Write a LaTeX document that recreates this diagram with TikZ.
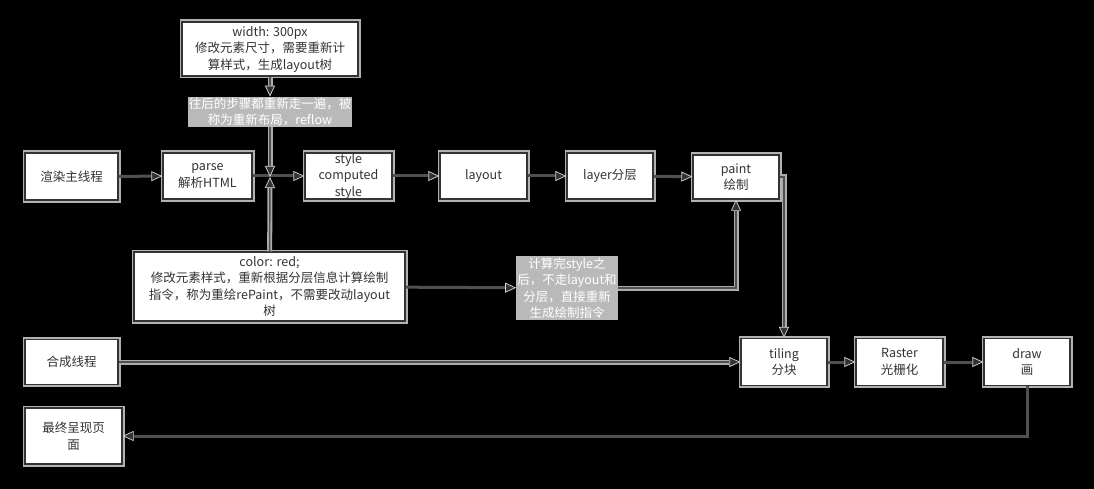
\documentclass[tikz,border=0pt]{standalone}
\usepackage{fontspec}
\setmainfont{Noto Sans CJK SC}
\usetikzlibrary{arrows.meta}
\definecolor{boxline}{HTML}{333333}
\definecolor{wire}{HTML}{505050}
\tikzset{
  tip/.style={-{Triangle[length=11pt,width=10pt,line width=0.7pt,color=white!85!black,fill=black!80]}},
  stepbox/.style={rectangle,draw=boxline,fill=white,line width=1.4pt,inner sep=0pt,align=center,
    text=black!80,preaction={draw=gray!60,line width=5pt}},
  wirelabel/.style={fill=gray!55,text=white,inner sep=1pt,align=center}
}
\begin{document}
\begin{tikzpicture}[x=1pt,y=-1pt,font=\fontsize{12.5}{16.5}\selectfont]
            \useasboundingbox[fill=black] (0,0) rectangle (1094,489);
            \begin{scope}[every node/.style={stepbox}]
                \node[minimum width=93,minimum height=47] (zhu) at (71.5,176.5) {渲染主线程};
                \node[minimum width=89,minimum height=46] (parse) at (207.5,176) {parse\\解析HTML};
                \node[minimum width=87,minimum height=46] (style) at (348.5,176) {style\\computed\\style};
                \node[minimum width=87,minimum height=46] (layout) at (483.5,176) {layout};
                \node[minimum width=86,minimum height=46] (layer) at (610,176) {layer分层};
                \node[minimum width=86,minimum height=44] (paint) at (736,177) {paint\\绘制};
                \node[minimum width=176,minimum height=54] (width) at (270,49) {width: 300px\\修改元素尺寸，需要重新计\\算样式，生成layout树};
                \node[minimum width=271,minimum height=69] (color) at (269.5,286.5) {color: red;\\修改元素样式，重新根据分层信息计算绘制\\指令，称为重绘rePaint，不需要改动layout\\树};
                \node[minimum width=93,minimum height=45] (hecheng) at (71.5,362) {合成线程};
                \node[minimum width=97,minimum height=56] (final) at (73.5,436) {最终呈现页\\面};
                \node[minimum width=86,minimum height=47] (tiling) at (784,362) {tiling\\分块};
                \node[minimum width=87,minimum height=47] (raster) at (899.5,362) {Raster\\光栅化};
                \node[minimum width=86,minimum height=47] (draw) at (1027,362) {draw\\画};
            \end{scope}
            \coordinate (j) at (270,177);
            \node[wirelabel] (reflow) at (270,112) {往后的步骤都重新走一遍，被\\称为重新布局，reflow};
            \node[wirelabel] (redo) at (567,288) {计算完style之\\后，不走layout和\\分层，直接重新\\生成绘制指令};
            \begin{scope}[every path/.style={draw=wire,line width=3pt,tip}]
                \path (zhu) -- (parse);
                \path (parse) -- (style);
                \path (style) -- (layout);
                \path (layout) -- (layer);
                \path (layer) -- (paint);
                \path (tiling) -- (raster);
                \path (raster) -- (draw);
                \path (draw.south) |- (final.east);
                \path (color) -- (redo);
            \end{scope}
            \begin{scope}[every path/.style={draw=gray!65,double=wire,double distance=1.4pt,line width=1.8pt,tip}]
                \path (width) -- (reflow);
                \path (reflow) -- (j);
                \path (color) -- (j);
                \path (hecheng) -- (tiling);
                \path (paint.east) -| (tiling.north);
                \path (redo.east) -| (paint.south);
            \end{scope}
        \end{tikzpicture}
\end{document}
